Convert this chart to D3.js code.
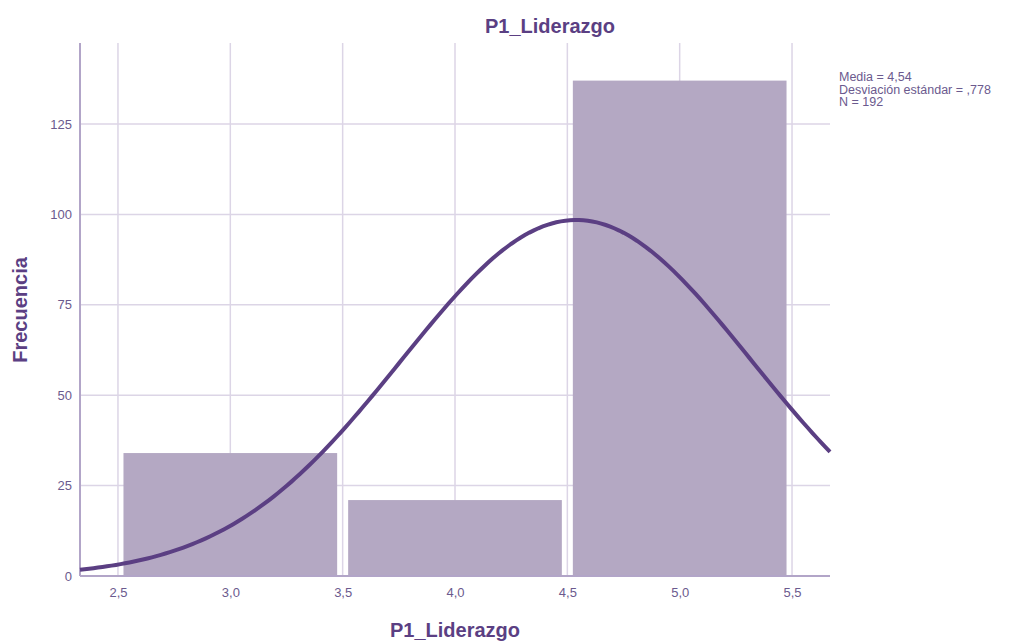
<!DOCTYPE html>
<html>
<head>
<meta charset="utf-8">
<style>
  body { margin: 0; background: #fff; }
  text { font-family: Arial, "Liberation Sans", sans-serif; }
</style>
</head>
<body>
<script src="https://cdn.jsdelivr.net/npm/d3@7"></script>
<script>
  // histogram bins (value range) and their counts
  var binStarts = [2.5, 3.5, 4.5];
  var binEnds = [3.5, 4.5, 5.5];
  var counts = [34, 21, 137];

  var xTicks = [2.5, 3.0, 3.5, 4.0, 4.5, 5.0, 5.5];
  var yTicks = [0, 25, 50, 75, 100, 125];

  // summary stats shown in the legend
  var mean = 4.54, sd = 0.778, n = 192;
  var statLines = ['Media = 4,54', 'Desviación estándar = ,778', 'N = 192'];

  var width = 1017, height = 642;
  var plotLeft = 80, plotRight = 830, plotTop = 43, plotBottom = 576;
  var purple = '#5b3f83', textCol = '#6b5a8e';

  var svg = d3.select('body').append('svg')
      .attr('width', width)
      .attr('height', height);

  var x = d3.scaleLinear().domain([2.331, 5.669]).range([plotLeft, plotRight]);
  var y = d3.scaleLinear().domain([0, 147.4]).range([plotBottom, plotTop]);

  // gridlines
  svg.selectAll('.vgrid').data(xTicks).enter().append('line')
      .attr('x1', function(d) { return x(d); })
      .attr('x2', function(d) { return x(d); })
      .attr('y1', plotTop).attr('y2', plotBottom)
      .attr('stroke', '#dcd5e6').attr('stroke-width', 1.5);
  svg.selectAll('.hgrid').data(yTicks.slice(1)).enter().append('line')
      .attr('x1', plotLeft).attr('x2', plotRight)
      .attr('y1', function(d) { return y(d); })
      .attr('y2', function(d) { return y(d); })
      .attr('stroke', '#dcd5e6').attr('stroke-width', 1.5);

  // bars
  var inset = 5.5;
  svg.selectAll('.bar').data(counts).enter().append('rect')
      .attr('x', function(d, i) { return x(binStarts[i]) + inset; })
      .attr('width', function(d, i) { return x(binEnds[i]) - x(binStarts[i]) - 2 * inset; })
      .attr('y', function(d) { return y(d); })
      .attr('height', function(d) { return y(0) - y(d); })
      .attr('fill', '#b4a8c3');

  // axes
  var xAxis = svg.append('g').attr('transform', 'translate(0,' + plotBottom + ')')
      .call(d3.axisBottom(x).tickValues(xTicks).tickSize(0).tickPadding(12)
        .tickFormat(function(d) { return d3.format('.1f')(d).replace('.', ','); }));
  var yAxis = svg.append('g').attr('transform', 'translate(' + plotLeft + ',0)')
      .call(d3.axisLeft(y).tickValues(yTicks).tickSize(0).tickPadding(8));
  [xAxis, yAxis].forEach(function(g) {
    g.select('.domain').attr('stroke', '#b2a5c8').attr('stroke-width', 2);
    g.selectAll('text').attr('fill', textCol).style('font-size', '13px');
  });
  yAxis.select('.domain').attr('d', 'M0,' + plotTop + 'V' + plotBottom);
  xAxis.select('.domain').attr('d', 'M' + plotLeft + ',0H' + plotRight);

  // normal curve from the stated mean, sd and N (bin width 1)
  var curveX = d3.range(x.domain()[0], x.domain()[1], 0.02).concat([x.domain()[1]]);
  var density = function(v) {
    return n / (sd * Math.sqrt(2 * Math.PI)) * Math.exp(-0.5 * Math.pow((v - mean) / sd, 2));
  };
  svg.append('path')
      .datum(curveX)
      .attr('fill', 'none')
      .attr('stroke', purple)
      .attr('stroke-width', 4)
      .attr('d', d3.line()
        .x(function(d) { return x(d); })
        .y(function(d) { return y(density(d)); }));

  // titles
  svg.append('text').attr('x', 550).attr('y', 33)
      .attr('text-anchor', 'middle').attr('fill', purple)
      .style('font-size', '20px').style('font-weight', 'bold')
      .text('P1_Liderazgo');
  svg.append('text').attr('x', 455).attr('y', 637)
      .attr('text-anchor', 'middle').attr('fill', purple)
      .style('font-size', '20px').style('font-weight', 'bold')
      .text('P1_Liderazgo');
  svg.append('text')
      .attr('transform', 'translate(27,310) rotate(-90)')
      .attr('text-anchor', 'middle').attr('fill', purple)
      .style('font-size', '20px').style('font-weight', 'bold')
      .text('Frecuencia');

  // stats legend
  svg.selectAll('.stat').data(statLines).enter().append('text')
      .attr('x', 839)
      .attr('y', function(d, i) { return 81 + i * 12.5; })
      .attr('fill', textCol)
      .style('font-size', '12.5px')
      .text(function(d) { return d; });
</script>
</body>
</html>
